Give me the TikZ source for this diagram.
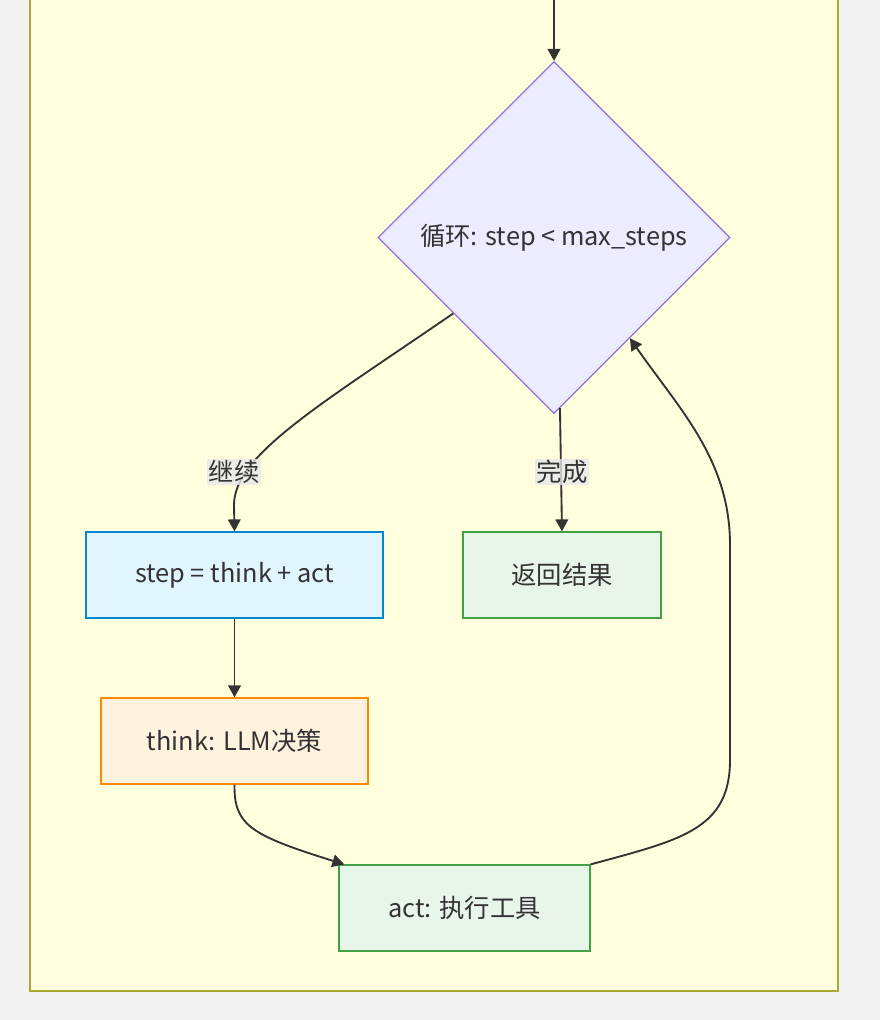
\documentclass[tikz,border=0pt]{standalone}
\usepackage{fontspec}
\setmainfont{Noto Sans CJK SC}
\usetikzlibrary{shapes.geometric,arrows.meta,calc}
\definecolor{pagebg}{HTML}{F3F3F3}
\definecolor{clfill}{HTML}{FFFFDE}
\definecolor{cldraw}{HTML}{AAAA33}
\definecolor{dfill}{HTML}{ECECFF}
\definecolor{ddraw}{HTML}{9370DB}
\definecolor{bfill}{HTML}{E1F5FE}
\definecolor{bdraw}{HTML}{0288D1}
\definecolor{ofill}{HTML}{FFF3E0}
\definecolor{odraw}{HTML}{FB8C00}
\definecolor{gfill}{HTML}{E8F5E9}
\definecolor{gdraw}{HTML}{43A047}
\definecolor{txt}{HTML}{333333}
\definecolor{lblbg}{HTML}{E8E8E8}
\begin{document}
\begin{tikzpicture}[x=0.75pt,y=-0.75pt,
  every node/.style={font=\fontsize{19pt}{22pt}\selectfont, text=txt},
  box/.style={rectangle, inner sep=0pt, line width=0.9pt},
  edge/.style={draw=txt, line width=1.4pt, -{Triangle[length=9pt,width=9.5pt]}},
  lbl/.style={fill=lblbg, fill opacity=0.8, text opacity=1, inner sep=1pt}
]
\useasboundingbox (0,0) rectangle (880,1020);
\fill[pagebg] (0,0) rectangle (880,1020);
\draw[fill=clfill, draw=cldraw, line width=0.9pt] (30,-10) rectangle (838,991);

\node[diamond, aspect=1, inner sep=0pt, minimum width=264pt, minimum height=264pt,
      fill=dfill, draw=ddraw, line width=0.9pt] (dia) at (554,237.5) {循环: step < max\_steps};
\node[box, fill=bfill, draw=bdraw, minimum width=222.75pt, minimum height=64.5pt] (stepbox) at (234.5,575) {step = think + act};
\node[box, fill=gfill, draw=gdraw, minimum width=148.5pt, minimum height=64.5pt] (ret) at (562,575) {返回结果};
\node[box, fill=ofill, draw=odraw, minimum width=200.25pt, minimum height=64.5pt] (think) at (234.5,741) {think: LLM决策};
\node[box, fill=gfill, draw=gdraw, minimum width=188.25pt, minimum height=64.5pt] (act) at (464.5,908) {act: 执行工具};

\coordinate (topin) at (554,-2);
\draw[edge] (topin) -- (dia.north);

\draw[edge] (dia.217) .. controls (320,405) and (234,455) .. (234,505) -- (stepbox.north);
\node[lbl] (l1) at (234,472) {继续};

\draw[edge] (dia.-88) -- (ret.north);
\node[lbl] (l2) at (562,472) {完成};

\draw[edge] (stepbox.south) -- (think.north);

\draw[edge] (think.south) .. controls (234,825) and (250,835) .. ($(act.north west)+(6,0)$);

\draw[edge] (act.north east) .. controls (680,840) and (730,830) .. (730,760) -- (730,545)
  .. controls (730,460) and (680,410) .. (dia.-53);
\end{tikzpicture}
\end{document}
